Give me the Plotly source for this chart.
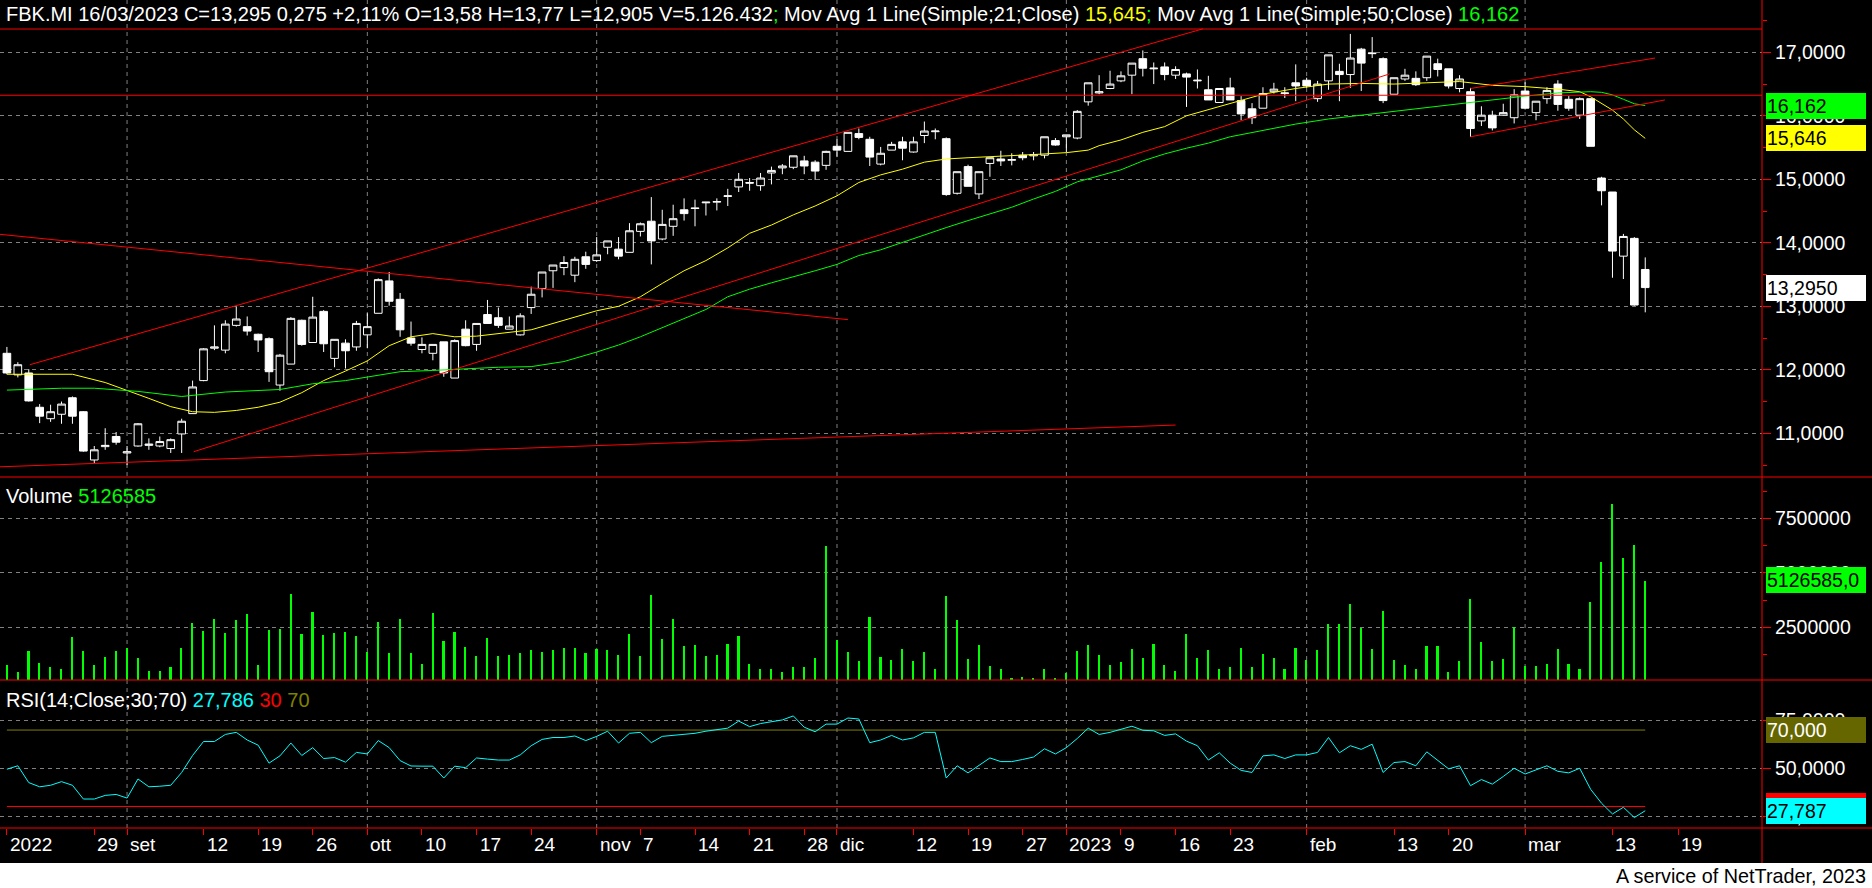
import plotly.graph_objects as go

# ---------------- data ----------------
opens = [12.26, 11.92, 11.95, 11.41, 11.23, 11.30, 11.56, 11.34, 10.58, 10.79,
         10.95, 10.69, 10.80, 10.81, 10.80, 10.76, 10.99, 11.31, 11.83, 12.34,
         12.31, 12.70, 12.68, 12.56, 12.49, 11.76, 12.09, 12.78, 12.43, 12.92,
         12.18, 12.42, 12.36, 12.55, 12.89, 13.40, 13.11, 12.50, 12.32, 12.26,
         12.44, 11.87, 12.64, 12.40, 12.87, 12.82, 12.64, 12.55, 12.98, 13.28,
         13.56, 13.61, 13.49, 13.78, 13.72, 13.93, 13.90, 13.85, 14.18, 14.34,
         14.06, 14.26, 14.52, 14.55, 14.63, 14.64, 14.73, 14.88, 14.95, 14.90,
         15.10, 15.18, 15.19, 15.29, 15.27, 15.22, 15.52, 15.44, 15.72, 15.63,
         15.24, 15.46, 15.59, 15.43, 15.69, 15.75, 15.64, 14.78, 15.20, 14.77,
         15.25, 15.32, 15.30, 15.38, 15.37, 15.38, 15.61, 15.67, 15.65, 16.22,
         16.36, 16.43, 16.55, 16.64, 16.90, 16.74, 16.77, 16.64, 16.66, 16.55,
         16.41, 16.21, 16.44, 16.24, 16.11, 16.12, 16.38, 16.35, 16.52, 16.56,
         16.27, 16.55, 16.70, 16.65, 17.05, 16.99, 16.90, 16.34, 16.58, 16.59,
         16.60, 16.82, 16.74, 16.43, 16.38, 15.92, 16.01, 16.01, 15.97, 16.39,
         16.05, 16.27, 16.50, 16.26, 16.01, 16.27, 15.02, 14.80, 13.79, 14.07,
         13.58]
highs = [12.36, 12.12, 12.01, 11.46, 11.45, 11.50, 11.58, 11.35, 10.80, 11.08,
         11.02, 10.80, 11.16, 10.92, 10.95, 10.92, 11.23, 11.83, 12.34, 12.70,
         12.78, 13.00, 12.84, 12.57, 12.51, 12.25, 12.83, 12.79, 13.15, 12.94,
         12.48, 12.48, 12.77, 12.89, 13.44, 13.54, 13.21, 12.76, 12.51, 12.40,
         12.44, 12.48, 12.78, 12.73, 13.10, 12.98, 12.84, 12.89, 13.31, 13.54,
         13.65, 13.79, 13.78, 13.86, 14.09, 14.03, 14.09, 14.31, 14.32, 14.72,
         14.52, 14.60, 14.70, 14.68, 14.64, 14.70, 14.85, 15.10, 15.02, 15.10,
         15.20, 15.24, 15.37, 15.37, 15.30, 15.45, 15.63, 15.74, 15.80, 15.67,
         15.51, 15.59, 15.67, 15.67, 15.91, 15.80, 15.66, 15.12, 15.23, 15.12,
         15.34, 15.45, 15.41, 15.43, 15.43, 15.67, 15.65, 15.70, 16.09, 16.52,
         16.64, 16.71, 16.70, 16.83, 17.03, 16.84, 16.84, 16.78, 16.68, 16.73,
         16.63, 16.43, 16.60, 16.31, 16.20, 16.45, 16.52, 16.45, 16.81, 16.60,
         16.55, 16.96, 16.82, 17.29, 17.07, 17.24, 16.92, 16.60, 16.74, 16.70,
         16.94, 16.90, 16.74, 16.64, 16.44, 16.15, 16.08, 16.19, 16.42, 16.53,
         16.23, 16.45, 16.56, 16.31, 16.29, 16.27, 15.04, 14.80, 14.14, 14.09,
         13.77]
lows = [11.93, 11.88, 11.50, 11.16, 11.18, 11.15, 11.15, 10.71, 10.53, 10.74,
        10.82, 10.50, 10.79, 10.74, 10.78, 10.69, 10.69, 11.31, 11.82, 12.31,
        12.26, 12.68, 12.54, 12.28, 11.81, 11.67, 12.09, 12.38, 12.43, 12.28,
        12.04, 12.02, 12.30, 12.34, 12.89, 13.01, 12.52, 12.38, 12.26, 12.15,
        11.89, 11.87, 12.37, 12.30, 12.73, 12.66, 12.64, 12.54, 12.88, 13.14,
        13.29, 13.49, 13.38, 13.59, 13.70, 13.82, 13.74, 13.85, 14.10, 13.66,
        14.04, 14.11, 14.35, 14.26, 14.43, 14.51, 14.58, 14.80, 14.82, 14.82,
        14.92, 15.08, 15.16, 15.08, 14.99, 15.15, 15.35, 15.44, 15.63, 15.21,
        15.22, 15.46, 15.30, 15.42, 15.57, 15.63, 14.74, 14.76, 14.89, 14.69,
        15.04, 15.21, 15.22, 15.30, 15.30, 15.33, 15.53, 15.43, 15.63, 16.16,
        16.34, 16.42, 16.53, 16.34, 16.62, 16.50, 16.56, 16.58, 16.14, 16.43,
        16.25, 16.21, 16.25, 15.93, 15.87, 16.12, 16.35, 16.28, 16.23, 16.44,
        16.22, 16.41, 16.23, 16.44, 16.39, 16.91, 16.20, 16.34, 16.55, 16.47,
        16.55, 16.62, 16.43, 16.37, 15.67, 15.84, 15.77, 16.00, 15.88, 16.10,
        15.93, 16.19, 16.08, 16.08, 15.95, 15.52, 14.59, 13.45, 13.43, 13.01,
        12.905]
closes = [11.95, 12.08, 11.51, 11.27, 11.34, 11.46, 11.27, 10.72, 10.74, 10.81,
          10.86, 10.71, 11.15, 10.83, 10.87, 10.90, 11.19, 11.73, 12.33, 12.36,
          12.72, 12.80, 12.61, 12.47, 11.97, 12.23, 12.81, 12.40, 12.83, 12.41,
          12.48, 12.30, 12.73, 12.68, 13.42, 13.08, 12.63, 12.42, 12.40, 12.40,
          11.95, 12.46, 12.38, 12.73, 12.73, 12.70, 12.69, 12.85, 13.19, 13.54,
          13.65, 13.69, 13.74, 13.66, 13.81, 14.03, 13.79, 14.19, 14.30, 14.03,
          14.29, 14.38, 14.46, 14.54, 14.64, 14.65, 14.74, 15.00, 14.94, 15.02,
          15.14, 15.21, 15.37, 15.21, 15.13, 15.44, 15.46, 15.74, 15.66, 15.35,
          15.41, 15.55, 15.49, 15.59, 15.76, 15.76, 14.76, 15.12, 14.89, 15.12,
          15.34, 15.29, 15.31, 15.34, 15.39, 15.67, 15.54, 15.70, 16.07, 16.52,
          16.38, 16.50, 16.63, 16.83, 16.75, 16.75, 16.65, 16.73, 16.61, 16.56,
          16.25, 16.43, 16.25, 16.03, 15.97, 16.35, 16.42, 16.36, 16.47, 16.47,
          16.50, 16.96, 16.65, 16.91, 16.83, 16.98, 16.24, 16.60, 16.64, 16.49,
          16.94, 16.73, 16.47, 16.58, 15.80, 16.01, 15.81, 16.05, 16.33, 16.12,
          16.23, 16.40, 16.18, 16.12, 16.27, 15.52, 14.82, 13.87, 14.10, 13.02,
          13.295]
volumes_m = [0.78, 0.47, 1.42, 0.85, 0.66, 0.61, 2.05, 1.42, 0.75, 1.16,
             1.42, 1.53, 1.08, 0.50, 0.50, 0.66, 1.53, 2.69, 2.31, 2.88,
             2.24, 2.83, 3.11, 0.75, 2.38, 2.41, 4.01, 2.19, 3.18, 2.15,
             2.24, 2.29, 2.10, 1.37, 2.74, 1.30, 2.88, 1.31, 0.83, 3.16,
             1.86, 2.29, 1.58, 1.18, 2.00, 1.18, 1.23, 1.34, 1.46, 1.39,
             1.46, 1.56, 1.56, 1.34, 1.51, 1.46, 1.23, 2.17, 1.18, 3.99,
             1.96, 2.88, 1.65, 1.70, 1.18, 1.23, 1.72, 2.08, 0.83, 0.57,
             0.59, 0.47, 0.66, 0.66, 1.08, 6.25, 1.91, 1.37, 0.94, 2.97,
             1.13, 0.99, 1.49, 0.94, 1.37, 0.61, 3.92, 2.83, 1.04, 1.70,
             0.71, 0.57, 0.19, 0.21, 0.17, 0.57, 0.17, 0.42, 1.42, 1.67,
             1.23, 0.78, 0.90, 1.49, 1.08, 1.72, 0.75, 0.50, 2.19, 1.08,
             1.44, 0.61, 0.66, 1.53, 0.66, 1.27, 1.08, 0.61, 1.53, 0.99,
             1.44, 2.64, 2.64, 3.56, 2.48, 1.49, 3.23, 0.99, 0.75, 0.61,
             1.65, 1.65, 0.45, 0.94, 3.80, 1.82, 0.94, 1.04, 2.50, 0.71,
             0.71, 0.80, 1.49, 0.80, 0.57, 3.68, 5.50, 8.16, 5.68, 6.27,
             4.62]
rsi14 = [49.5, 51.3, 42.5, 40.3, 41.1, 43.0, 41.1, 33.9, 33.9, 35.8,
         36.3, 34.4, 44.4, 40.3, 40.6, 41.1, 47.8, 56.7, 64.0, 64.0,
         67.7, 68.8, 64.8, 62.1, 52.7, 56.5, 63.2, 56.7, 60.8, 55.1,
         55.6, 53.2, 58.3, 57.5, 64.5, 60.8, 54.0, 51.2, 51.1, 51.1,
         44.9, 51.1, 50.3, 55.4, 54.8, 54.3, 54.3, 57.0, 61.8, 65.1,
         66.1, 66.1, 66.9, 64.5, 66.7, 69.4, 63.2, 68.3, 68.8, 63.4,
         66.7, 67.2, 67.7, 68.3, 69.4, 70.4, 71.0, 74.7, 71.8, 73.4,
         74.2, 75.3, 77.4, 71.5, 69.1, 73.1, 73.1, 76.3, 75.8, 63.4,
         64.8, 67.2, 64.8, 65.9, 68.8, 68.8, 44.9, 51.3, 47.6, 51.6,
         55.4, 53.5, 53.5, 54.6, 55.9, 60.2, 57.5, 60.8, 65.6, 71.0,
         67.7, 68.8, 70.4, 72.0, 69.9, 69.6, 67.2, 68.0, 64.2, 61.8,
         54.3, 58.1, 52.7, 48.9, 47.8, 56.5, 57.0, 55.1, 57.0, 57.0,
         58.3, 66.1, 58.1, 61.8, 59.9, 62.6, 47.8, 53.0, 53.5, 51.3,
         58.6, 54.0, 49.7, 51.3, 40.9, 44.1, 41.7, 45.7, 50.0, 47.0,
         49.2, 51.3, 48.4, 47.6, 50.0, 39.0, 31.7, 26.1, 29.6, 24.2,
         27.786]
ma21_idx = [0, 3, 6, 9, 11, 13, 15, 17, 19, 21, 23, 25, 27, 29, 31, 33, 35, 37, 39, 41,
            43, 45, 48, 51, 54, 56, 58, 60, 62, 64, 66, 68, 70, 72, 74, 76, 78, 80, 82, 84,
            86, 88, 91, 94, 97, 99, 100, 102, 104, 106, 108, 110, 112, 115, 118, 121, 124, 127, 130, 133,
            136, 139, 142, 144, 145, 146, 147, 148, 149, 150]
ma21_val = [11.93, 11.93, 11.93, 11.80, 11.68, 11.55, 11.42, 11.34, 11.33, 11.36,
            11.41, 11.49, 11.64, 11.83, 11.98, 12.14, 12.38, 12.52, 12.57, 12.52,
            12.53, 12.57, 12.63, 12.78, 12.93, 13.00, 13.15, 13.36, 13.56, 13.72,
            13.92, 14.15, 14.28, 14.44, 14.58, 14.74, 14.95, 15.07, 15.16, 15.27,
            15.32, 15.34, 15.36, 15.39, 15.42, 15.46, 15.53, 15.62, 15.74, 15.83,
            16.00, 16.10, 16.20, 16.34, 16.43, 16.50, 16.51, 16.50, 16.52, 16.54,
            16.48, 16.46, 16.42, 16.38, 16.30, 16.20, 16.09, 15.95, 15.78, 15.645]
ma50_idx = [0, 5, 8, 12, 16, 20, 25, 28, 31, 34, 36, 39, 42, 45, 48, 51, 54, 56, 58, 60,
            62, 64, 66, 68, 70, 72, 74, 76, 78, 80, 82, 84, 86, 88, 90, 92, 94, 96, 98, 100,
            102, 104, 106, 108, 110, 112, 115, 118, 121, 124, 127, 130, 133, 136, 139, 142, 145, 146, 147, 148,
            149, 150]
ma50_val = [11.68, 11.71, 11.71, 11.66, 11.58, 11.65, 11.69, 11.78, 11.83, 11.92,
            11.97, 11.99, 12.02, 12.04, 12.05, 12.13, 12.28, 12.39, 12.52, 12.66,
            12.80, 12.95, 13.15, 13.27, 13.37, 13.46, 13.56, 13.66, 13.80, 13.89,
            14.01, 14.13, 14.24, 14.35, 14.45, 14.56, 14.69, 14.81, 14.96, 15.05,
            15.15, 15.29, 15.40, 15.49, 15.57, 15.67, 15.77, 15.87, 15.95, 16.01,
            16.08, 16.13, 16.19, 16.26, 16.31, 16.36, 16.38, 16.37, 16.33, 16.26,
            16.19, 16.162]

# user-drawn trend lines: (bar index, price) start / end
trend_start_idx = [2.1, 17.1, -1.0, -1.0, 134.0, 134.0]
trend_start_px = [12.08, 10.71, 14.14, 10.47, 15.67, 16.43]
trend_end_idx = [109.5, 126.6, 77.0, 107.0, 151.8, 150.9]
trend_end_px = [17.37, 16.66, 12.79, 11.13, 16.25, 16.91]
horizontal_levels = [17.367, 16.324]
rsi_levels = [30, 70]

# time axis: bar index of each labelled tick (first trading day of week / month)
tick_idx = [0, 8, 11, 18, 23, 28, 33, 38, 43, 48, 54, 58, 63, 68, 73, 76, 83, 88, 93,
            97, 102, 107, 112, 119, 127, 132, 139, 147, 153]
tick_txt = ["2022", "29", "set", "12", "19", "26", "ott", "10", "17", "24", "nov", "7",
            "14", "21", "28", "dic", "12", "19", "27", "2023", "9", "16", "23", "feb",
            "13", "20", "mar", "13", "19"]
month_idx = [11, 33, 54, 76, 97, 119, 139]

price_ticks = [11, 12, 13, 14, 15, 16, 17]
price_ticktext = ["11,0000", "12,0000", "13,0000", "14,0000", "15,0000", "16,0000", "17,0000"]
price_minor = [10.5, 11.5, 12.5, 13.5, 14.5, 15.5, 16.5, 17.5]
vol_ticks = [2500000, 5000000, 7500000]
vol_ticktext = ["2500000", "5000000", "7500000"]
vol_minor = [1250000, 3750000, 6250000, 8750000]
rsi_ticks = [25, 50, 75]
rsi_ticktext = ["25,0000", "50,0000", "75,0000"]

# ---------------- layout helpers ----------------
W, H = 1872, 888
PLOT_W = 1762          # right axis position
PLOT_H = 863           # bottom of black chart area


def py(ypix):
    return (PLOT_H - ypix) / PLOT_H


def px(xpix):
    return xpix / PLOT_W


FONT = "Liberation Sans, Arial, sans-serif"
RED = "#ff0000"
GRID = "#808080"

bars = list(range(len(closes)))
volumes = [v * 1e6 for v in volumes_m]

fig = go.Figure()

fig.add_trace(go.Candlestick(
    x=bars, open=opens, high=highs, low=lows, close=closes,
    increasing=dict(line=dict(color="#ffffff", width=1), fillcolor="#000000"),
    decreasing=dict(line=dict(color="#ffffff", width=1), fillcolor="#ffffff"),
    whiskerwidth=0, showlegend=False, hoverinfo="skip",
    xaxis="x", yaxis="y"))

fig.add_trace(go.Scatter(x=ma21_idx, y=ma21_val, mode="lines",
                         line=dict(color="#ffff00", width=1), showlegend=False,
                         hoverinfo="skip", xaxis="x", yaxis="y"))
fig.add_trace(go.Scatter(x=ma50_idx, y=ma50_val, mode="lines",
                         line=dict(color="#00ff00", width=1), showlegend=False,
                         hoverinfo="skip", xaxis="x", yaxis="y"))

tx, ty = [], []
for a, b, c, d in zip(trend_start_idx, trend_start_px, trend_end_idx, trend_end_px):
    tx += [a, c, None]
    ty += [b, d, None]
fig.add_trace(go.Scatter(x=tx, y=ty, mode="lines", line=dict(color=RED, width=1),
                         showlegend=False, hoverinfo="skip", xaxis="x", yaxis="y"))

fig.add_trace(go.Bar(x=bars, y=volumes, width=0.15, marker=dict(color="#00ff00", line=dict(width=0)),
                     showlegend=False, hoverinfo="skip", xaxis="x", yaxis="y2"))

fig.add_trace(go.Scatter(x=[bars[0], bars[-1]], y=[rsi_levels[1]] * 2, mode="lines",
                         line=dict(color="#808000", width=1), showlegend=False,
                         hoverinfo="skip", xaxis="x", yaxis="y3"))
fig.add_trace(go.Scatter(x=[bars[0], bars[-1]], y=[rsi_levels[0]] * 2, mode="lines",
                         line=dict(color=RED, width=1), showlegend=False,
                         hoverinfo="skip", xaxis="x", yaxis="y3"))
fig.add_trace(go.Scatter(x=bars, y=rsi14, mode="lines", line=dict(color="#00ffff", width=1),
                         showlegend=False, hoverinfo="skip", xaxis="x", yaxis="y3"))

tickfont = dict(family=FONT, size=19.5, color="#ffffff")
common_y = dict(side="right", anchor="x", ticks="outside", ticklen=8, tickwidth=1,
                tickcolor=RED, tickfont=tickfont, showgrid=True, gridcolor=GRID,
                griddash="4px,4px", gridwidth=1, zeroline=False, showline=False,
                tickmode="array", fixedrange=True)

fig.update_layout(
    width=W, height=H,
    margin=dict(l=0, r=W - PLOT_W, t=0, b=H - PLOT_H, pad=0),
    paper_bgcolor="#000000", plot_bgcolor="#000000",
    showlegend=False, bargap=0, boxgap=0.3, boxgroupgap=0,
    xaxis=dict(domain=[0, 1], range=[-0.632, 160.69], anchor="y3",
               tickmode="array", tickvals=tick_idx, ticks="outside", ticklen=6,
               tickcolor=RED, tickwidth=1, showticklabels=False, showgrid=False,
               zeroline=False, showline=False, rangeslider=dict(visible=False),
               fixedrange=True),
    yaxis=dict(domain=[py(477), 1.0], range=[10.3118, 17.824],
               tickvals=price_ticks, ticktext=price_ticktext,
               minor=dict(tickmode="array", tickvals=price_minor, ticks="outside",
                          ticklen=4, tickcolor=RED, showgrid=False),
               **common_y),
    yaxis2=dict(domain=[py(680), py(477)], range=[0.0826e6, 9.394e6],
                tickvals=vol_ticks, ticktext=vol_ticktext,
                minor=dict(tickmode="array", tickvals=vol_minor, ticks="outside",
                           ticklen=4, tickcolor=RED, showgrid=False),
                **common_y),
    yaxis3=dict(domain=[py(828), py(680)], range=[18.74, 96.2],
                tickvals=rsi_ticks, ticktext=rsi_ticktext, **common_y),
)

shapes = []
for m in month_idx:
    shapes.append(dict(type="line", xref="x", yref="paper", x0=m, x1=m, y0=py(828), y1=1,
                       line=dict(color=GRID, width=1, dash="4px,4px"), layer="below"))
for lv in horizontal_levels:
    shapes.append(dict(type="line", xref="paper", yref="y", x0=0, x1=1, y0=lv, y1=lv,
                       line=dict(color=RED, width=1), layer="above"))
for yy in [477, 680, 828]:
    shapes.append(dict(type="line", xref="paper", yref="paper", x0=0, x1=px(W), y0=py(yy), y1=py(yy),
                       line=dict(color=RED, width=1), layer="above"))
shapes.append(dict(type="line", xref="paper", yref="paper", x0=1, x1=1, y0=0, y1=1,
                   line=dict(color=RED, width=1), layer="above"))
shapes.append(dict(type="rect", xref="paper", yref="paper", x0=-0.01, x1=px(W) + 0.01,
                   y0=py(H) - 0.01, y1=0, fillcolor="#ffffff", line=dict(width=0), layer="above"))
fig.update_layout(shapes=shapes)

ann = []
header = ('FBK.MI 16/03/2023 C=13,295 0,275 +2,11% O=13,58 H=13,77 L=12,905 V=5.126.432'
          '<span style="color:#00ff00">;</span> Mov Avg 1 Line(Simple;21;Close) '
          '<span style="color:#ffff00">15,645</span><span style="color:#00ff00">;</span> '
          'Mov Avg 1 Line(Simple;50;Close) <span style="color:#00ff00">16,162</span>')
ann.append(dict(text=header, xref="paper", yref="paper", x=px(4), y=py(14),
                xanchor="left", yanchor="middle", showarrow=False,
                font=dict(family=FONT, size=20, color="#ffffff")))
ann.append(dict(text='Volume <span style="color:#00ff00">5126585</span>', xref="paper", yref="paper",
                x=px(4), y=py(496), xanchor="left", yanchor="middle", showarrow=False,
                font=dict(family=FONT, size=20, color="#ffffff")))
ann.append(dict(text='RSI(14;Close;30;70) <span style="color:#00ffff">27,786</span> '
                     '<span style="color:#ff0000">30</span> <span style="color:#808000">70</span>',
                xref="paper", yref="paper", x=px(4), y=py(699.5), xanchor="left",
                yanchor="middle", showarrow=False,
                font=dict(family=FONT, size=20, color="#ffffff")))
for ti, tt in zip(tick_idx, tick_txt):
    ann.append(dict(text=tt, xref="x", yref="paper", x=ti, y=py(844), xanchor="left",
                    yanchor="middle", xshift=1, showarrow=False,
                    font=dict(family=FONT, size=19, color="#ffffff")))


def box(text, yref, yval, bg, fg):
    return dict(text=text, xref="paper", yref=yref, x=px(1766), y=yval, xanchor="left",
                yanchor="middle", showarrow=False, align="left", width=98, height=24,
                borderpad=1, borderwidth=0, bgcolor=bg,
                font=dict(family=FONT, size=19.5, color=fg))


ann.append(box("16,162", "y", 16.162, "#00ff00", "#000000"))
ann.append(box("15,646", "y", 15.646, "#ffff00", "#000000"))
ann.append(box("13,2950", "y", 13.295, "#ffffff", "#000000"))
ann.append(box("5126585,0", "paper", py(579.7), "#00ff00", "#000000"))
ann.append(box("70,000", "y3", 70, "#666600", "#ffffff"))
ann.append(box("30,000", "y3", 30, "#ff0000", "#000000"))
ann.append(box("27,787", "y3", 27.787, "#00ffff", "#000000"))
ann.append(dict(text="A service of NetTrader, 2023", xref="paper", yref="paper",
                x=px(1868), y=py(876), xanchor="right", yanchor="middle", showarrow=False,
                font=dict(family=FONT, size=19.8, color="#000000")))
fig.update_layout(annotations=ann)

fig.write_html("out.html", config=dict(displayModeBar=False),
               post_script="document.body.style.margin='0px';document.body.style.padding='0px';")
